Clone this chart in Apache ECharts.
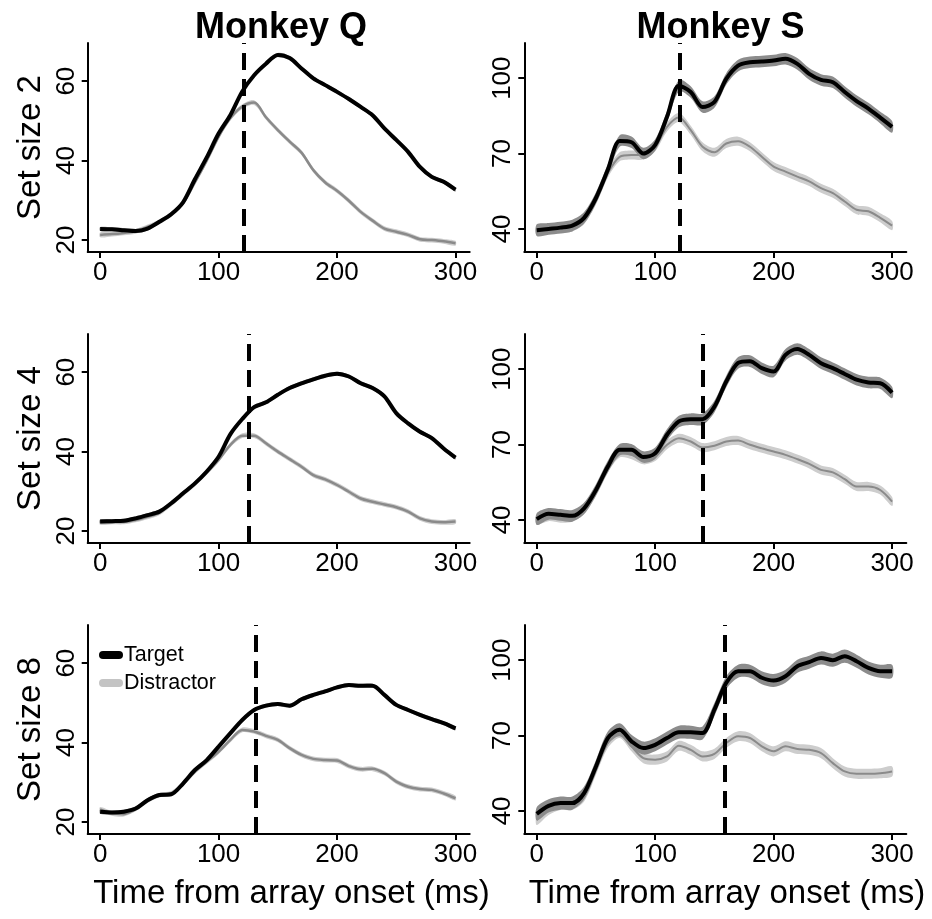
<!DOCTYPE html>
<html>
<head>
<meta charset="utf-8">
<script src="https://cdn.jsdelivr.net/npm/echarts@6/dist/echarts.min.js"></script>
<style>html,body{margin:0;padding:0;background:#fff}#c{width:932px;height:919px}</style>
</head>
<body>
<div id="c"></div>
<script>
// ---------------- DATA ----------------
const time = [0,10,20,30,40,50,60,70,80,90,100,110,120,130,140,150,160,170,180,190,200,210,220,230,240,250,260,270,280,290,300];
const xTickValues = [0,100,200,300];
const yTicksQ = [20,40,60];
const yTicksS = [40,70,100];
const columnTitles = ['Monkey Q','Monkey S'];
const rowTitles = ['Set size 2','Set size 4','Set size 8'];
const xTitle = 'Time from array onset (ms)';
const legendNames = ['Target','Distractor'];

// Monkey Q, set size 2
const q2Target = [22.8,22.7,22.5,22.3,22.9,24.6,26.5,29.5,35.3,40.8,46.8,51.5,57.4,61.5,64.4,66.6,65.8,63.2,60.7,59,57.3,55.5,53.5,51.4,48.1,45.2,42.2,38.4,35.9,34.7,32.7];
const q2Distr  = [21.3,21.5,21.8,22.2,23.3,24.6,26.5,29.3,34.5,40,46,50.7,53.6,54.6,50.9,47.7,44.8,42,37.6,34.5,32.4,29.9,27.1,24.9,22.9,22.1,21.3,20.2,20,19.7,19.2];
// Monkey S, set size 2
const s2Target = [39.5,40,40.5,41.3,44.4,52.3,63.5,75,74.5,70,73.4,84.6,97,94.5,88.5,90.5,99.7,105,106.3,106.6,107,107.7,105.7,101.7,99.3,98.4,94.5,90.9,87.9,84.3,80.6];
const s2Distr  = [39.2,39.7,40.1,40.8,43.7,51.6,62.2,68.7,69.4,69.4,72.7,80.6,84.3,79.3,72.7,70.5,74,74.9,72.7,68.7,64.8,62.8,60.8,58.9,56.2,54.2,50.9,47.6,47,44.4,41.3];
// Monkey Q, set size 4
const q4Target = [22.4,22.5,22.6,23.2,24,24.9,27,29.5,32,35,38.7,44.4,48.2,51.2,52.4,54.3,56,57.2,58.2,59.1,59.6,58.9,57.2,56,53.9,49.7,47.1,45,43.4,40.8,38.5];
const q4Distr  = [22.2,22.3,22.3,22.8,23.6,24.6,26.8,29.3,31.8,34.7,37.9,41.7,44,44,42.1,40,38.1,36.2,34.1,33,31.6,29.9,28.2,27.4,26.7,26,24.9,23.2,22.4,22.2,22.4];
// Monkey S, set size 4
const s4Target = [40.3,42.4,42,41.6,44.6,51.9,61.2,67.9,67.9,65,66.5,73.9,79.2,80.1,80.1,85.1,95.1,102.5,103.2,100.4,99.1,105.7,108,105.7,102.4,100.4,98.1,95.8,94.7,94.4,90.7];
const s4Distr  = [40,41.3,40.7,41.1,44,51.3,60.6,66.6,65.9,63.9,65.2,69.9,72.5,71.2,68.8,69.5,71.2,71.6,69.9,68.5,67.2,65.9,64.2,62.3,59.9,58.9,56.2,53.3,53.3,51.9,47.3];
// Monkey Q, set size 8
const q8Target = [22.6,22.4,22.6,23.4,25.5,26.8,27,29.7,33.1,35.6,39,42.4,45.7,48.2,49.3,49.7,49.3,50.9,52,52.9,53.9,54.5,54.3,54.3,52,49.5,48.2,47,45.9,44.9,43.6];
const q8Distr  = [23.2,22.2,22,23.3,25.4,26.8,27.2,29.6,32.7,35.2,37.7,40.7,43.2,42.8,41.7,40.7,38.6,36.9,35.9,35.6,35.5,34.1,33.3,33.4,32.3,30.2,28.9,28.3,28.1,27.2,26];
// Monkey S, set size 8
const s8Target = [38.8,42,43.1,43.1,47.1,57.7,69,72.3,67.7,65,66.3,69,71.3,71.3,71,80.3,91,95.6,95.6,93,91.9,93.6,97.6,99.2,100.9,100,101.6,99.6,96.9,95.6,95.6];
const s8Distr  = [36.4,40.4,42.4,42.4,45.7,56.4,67,71,65.7,61,60.4,61.7,65.9,64.3,61.7,62.7,67,69.7,69,65.7,63.7,65.7,64.6,64.3,63,59,55.7,54.8,54.8,55,55.7];

// vertical dashed markers (ms)
const markerTimes = [121, 120.5, 125.5, 140.5, 131, 158.5];
// standard-error half widths of the bands
const seTarget = [0.5, 2.3, 0.5, 2.3, 0.5, 2.6];
const seDistr  = [0.6, 1.8, 0.6, 1.8, 0.6, 2.0];

// ---------------- LAYOUT / STYLE ----------------
const targets = [q2Target, s2Target, q4Target, s4Target, q8Target, s8Target];
const distrs  = [q2Distr, s2Distr, q4Distr, s4Distr, q8Distr, s8Distr];
const FONT = '"Liberation Sans", Arial, Helvetica, sans-serif';
const colLeft = [87.7, 524.3];
const gridW = 382;
const rowTop = [43, 334, 625];
const gridH = 209;
const yRangeQ = [17, 69.6];
const yRangeS = [30.8, 114];
const xRange = [-10.5, 312];

// band drawn as one smoothed polygon through upper edge then lower edge
function bandRenderer(color) {
  return function (params, api) {
    if (params.dataIndexInside !== 0) return null;
    const n = params.dataInsideLength;
    const up = [], lo = [];
    for (let k = 0; k < n; k++) {
      const t = api.value(0, k);
      up.push(api.coord([t, api.value(2, k)]));
      lo.push(api.coord([t, api.value(1, k)]));
    }
    const pts = up.concat(lo.reverse());
    return {
      type: 'polygon',
      shape: {points: pts, smooth: 0.3},
      style: {fill: color, stroke: null},
      silent: true
    };
  };
}

const grids = [], xAxes = [], yAxes = [], series = [];
for (let i = 0; i < 6; i++) {
  const col = i % 2, row = Math.floor(i / 2);
  grids.push({left: colLeft[col], top: rowTop[row], width: gridW, height: gridH});
  const axisLineStyle = {color: '#000', width: 2};
  xAxes.push({
    type: 'value', gridIndex: i, min: xRange[0], max: xRange[1],
    axisLine: {show: true, onZero: false, lineStyle: axisLineStyle},
    axisTick: {show: true, length: 6, lineStyle: {color: '#000', width: 2}, customValues: xTickValues},
    axisLabel: {customValues: xTickValues, color: '#000', fontSize: 26, fontFamily: FONT, margin: 8},
    splitLine: {show: false}
  });
  const ticks = col === 0 ? yTicksQ : yTicksS;
  const yr = col === 0 ? yRangeQ : yRangeS;
  yAxes.push({
    type: 'value', gridIndex: i, min: yr[0], max: yr[1],
    name: col === 0 ? rowTitles[row] : '',
    nameLocation: 'middle', nameRotate: 90, nameGap: 40,
    nameTextStyle: {fontSize: 33, color: '#000', fontFamily: FONT},
    axisLine: {show: true, onZero: false, lineStyle: axisLineStyle},
    axisTick: {show: true, length: 6, lineStyle: {color: '#000', width: 2}, customValues: ticks},
    axisLabel: {customValues: ticks, rotate: 90, color: '#000', fontSize: 26, fontFamily: FONT, margin: 8},
    splitLine: {show: false}
  });

  const T = targets[i], D = distrs[i];
  const base = {type: 'line', xAxisIndex: i, yAxisIndex: i, smooth: 0.3, symbol: 'none', silent: true};
  const bandTargetColor = col === 0 ? '#9a9a9a' : '#8c8c8c';
  const bandDistrColor = '#cdcdcd';
  // distractor band
  series.push({
    type: 'custom', xAxisIndex: i, yAxisIndex: i, silent: true,
    renderItem: bandRenderer(bandDistrColor),
    data: time.map((t, k) => [t, D[k] - seDistr[i], D[k] + seDistr[i]])
  });
  // target band
  series.push({
    type: 'custom', xAxisIndex: i, yAxisIndex: i, silent: true,
    renderItem: bandRenderer(bandTargetColor),
    data: time.map((t, k) => [t, T[k] - seTarget[i], T[k] + seTarget[i]])
  });
  // distractor line
  series.push(Object.assign({}, base, {
    name: 'Distractor', color: '#c4c4c4',
    lineStyle: {color: '#8a8a8a', width: col === 0 ? 2.5 : 2},
    data: time.map((t, k) => [t, D[k]])
  }));
  // target line + dashed marker
  series.push(Object.assign({}, base, {
    name: 'Target', color: '#000',
    lineStyle: {color: '#000', width: 4},
    data: time.map((t, k) => [t, T[k]]),
    markLine: {
      silent: true, symbol: ['none', 'none'], label: {show: false},
      lineStyle: {color: '#000', width: 4, type: [17, 9]},
      emphasis: {disabled: true},
      data: [{xAxis: markerTimes[i]}]
    }
  }));
}

const pill = 'path://M4,0 L20,0 A4,4 0 0 1 20,8 L4,8 A4,4 0 0 1 4,0 Z';

const option = {
  animation: false,
  backgroundColor: '#fff',
  textStyle: {fontFamily: FONT},
  title: [
    {text: columnTitles[0], left: 276, top: 5, textAlign: 'center',
     textStyle: {fontSize: 36, fontWeight: 'bold', color: '#000', fontFamily: FONT}},
    {text: columnTitles[1], left: 715.5, top: 5, textAlign: 'center',
     textStyle: {fontSize: 36, fontWeight: 'bold', color: '#000', fontFamily: FONT}}
  ],
  legend: {
    orient: 'vertical', left: 94, top: 639, itemGap: 6,
    itemWidth: 24, itemHeight: 8, selectedMode: false,
    textStyle: {fontSize: 21.5, color: '#000', fontFamily: FONT, padding: [0, 0, 0, -4]},
    data: [
      {name: legendNames[0], icon: pill, itemStyle: {color: '#000'}},
      {name: legendNames[1], icon: pill, itemStyle: {color: '#c4c4c4'}}
    ]
  },
  graphic: [
    {type: 'text', x: 291.5, y: 894, silent: true,
     style: {text: xTitle, fill: '#000', font: '33px ' + FONT, textAlign: 'center', textVerticalAlign: 'middle'}},
    {type: 'text', x: 727, y: 894, silent: true,
     style: {text: xTitle, fill: '#000', font: '33px ' + FONT, textAlign: 'center', textVerticalAlign: 'middle'}}
  ],
  grid: grids,
  xAxis: xAxes,
  yAxis: yAxes,
  series: series
};

const chart = echarts.init(document.getElementById('c'), null, {renderer: 'canvas'});
chart.setOption(option);
</script>
</body>
</html>
